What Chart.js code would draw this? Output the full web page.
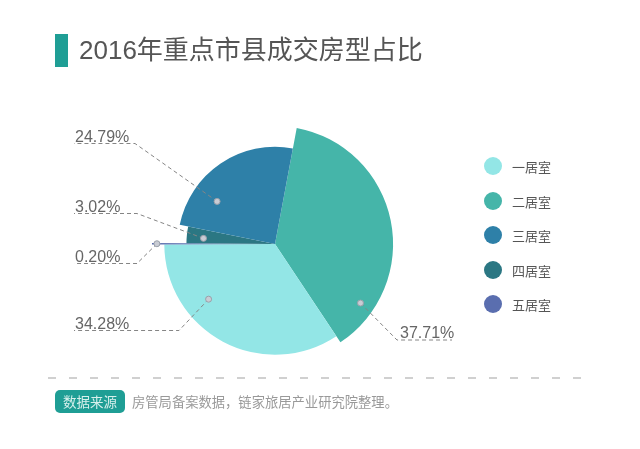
<!DOCTYPE html>
<html>
<head>
<meta charset="utf-8">
<script src="https://cdn.jsdelivr.net/npm/chart.js@4/dist/chart.umd.min.js"></script>
<style>
  body { margin: 0; background: #fff; font-family: "Liberation Sans", "Noto Sans CJK SC", sans-serif; }
  #wrap { position: relative; width: 640px; height: 449px; overflow: hidden; }
  #grafico { position: absolute; left: 0; top: 0; }
  .titulo { position: absolute; left: 55px; top: 34px; height: 33px; border-left: 13px solid #1f9e95; padding-left: 11px;
            font-size: 26px; line-height: 33px; color: #555; white-space: nowrap; }
  .legenda { position: absolute; left: 484px; top: 157px; }
  .legenda div { height: 34.5px; display: flex; align-items: flex-start; font-size: 13px; color: #555; }
  .legenda span.dot { width: 18px; height: 18px; border-radius: 50%; margin-right: 10px; }
  .legenda span.txt { line-height: 19px; font-family: "Noto Sans CJK SC", sans-serif; }
  .rodape-linha { position: absolute; left: 48px; top: 377px; width: 544px; height: 1.5px;
                  background: repeating-linear-gradient(to right, #d0d0d0 0 8px, transparent 8px 21px); }
  .fonte { position: absolute; left: 55px; top: 390px; width: 70px; height: 23px; border-radius: 5px; background: #1f9e95;
           color: #d8f0ec; font-size: 13.5px; line-height: 23px; text-align: center; font-family: "Noto Sans CJK SC", sans-serif; }
  .fonte-txt { position: absolute; left: 132px; top: 390px; line-height: 23px; font-size: 13.3px; color: #999; white-space: nowrap;
               font-family: "Noto Sans CJK SC", sans-serif; }
</style>
</head>
<body>
<div id="wrap">
  <canvas id="grafico" width="640" height="449"></canvas>
  <div class="titulo">2016年重点市县成交房型占比</div>
  <div class="legenda" id="legenda"></div>
  <div class="rodape-linha"></div>
  <div class="fonte">数据来源</div>
  <div class="fonte-txt">房管局备案数据，链家旅居产业研究院整理。</div>
</div>
<script>
// dados (ordem da legenda)
const categorias = ['一居室', '二居室', '三居室', '四居室', '五居室'];
const percentuais = [34.28, 37.71, 24.79, 3.02, 0.20];
const cores = ['#93e6e6', '#45b5a9', '#2e80a8', '#2b7783', '#5a6eaf'];

// ordem de desenho no sentido horario a partir do topo
const ordemDesenho = [1, 0, 4, 3, 2];

// raio relativo de cada fatia (estilo), na ordem da legenda
const escalaRaio = [0.90, 0.96, 0.79, 0.72, 1.0];

// marcador dentro da fatia: fracao do angulo, fracao do raio
const marcadores = [[0.68, 0.78], [0.84, 0.88], [0.28, 0.74], [0.37, 0.81], [0.5, 0.96]];

// rotulos: linha horizontal em y, dobra em x, lado
const rotulos = [
  { y: 330.5, dobra: 179, lado: 'esq' },
  { y: 340, dobra: 397, lado: 'dir' },
  { y: 143.5, dobra: 135, lado: 'esq' },
  { y: 213.5, dobra: 137, lado: 'esq' },
  { y: 263.5, dobra: 137, lado: 'esq' }
];

legenda.innerHTML = categorias.map((c, i) =>
  `<div><span class="dot" style="background:${cores[i]}"></span><span class="txt">${c}</span></div>`).join('');

const raioPorFatia = {
  id: 'raioPorFatia',
  beforeDatasetsDraw(chart) {
    const meta = chart.getDatasetMeta(0);
    const base = meta.controller.outerRadius;
    meta.data.forEach((el, k) => {
      el.outerRadius = base * escalaRaio[ordemDesenho[k]];
    });
  }
};

const linhasRotulo = {
  id: 'linhasRotulo',
  afterDatasetsDraw(chart) {
    const ctx = chart.ctx;
    const meta = chart.getDatasetMeta(0);
    ctx.save();
    meta.data.forEach((el, k) => {
      const i = ordemDesenho[k];
      const [fa, fr] = marcadores[i];
      const ang = el.startAngle + (el.endAngle - el.startAngle) * fa;
      const r = el.outerRadius * fr;
      const mx = el.x + Math.cos(ang) * r;
      const my = el.y + Math.sin(ang) * r;
      const rt = rotulos[i];
      const fim = rt.lado === 'esq' ? 74 : 452;

      ctx.setLineDash([4, 3]);
      ctx.strokeStyle = '#858585';
      ctx.lineWidth = 1;
      ctx.beginPath();
      ctx.moveTo(mx, my);
      ctx.lineTo(rt.dobra, rt.y);
      ctx.lineTo(fim, rt.y);
      ctx.stroke();
      ctx.setLineDash([]);

      ctx.beginPath();
      ctx.arc(mx, my, 3, 0, Math.PI * 2);
      ctx.fillStyle = '#c9ccd4';
      ctx.fill();
      ctx.strokeStyle = '#9aa0aa';
      ctx.lineWidth = 1;
      ctx.stroke();

      ctx.fillStyle = '#666';
      ctx.font = '16px "Liberation Sans", sans-serif';
      ctx.textBaseline = 'alphabetic';
      ctx.textAlign = 'left';
      const tx = rt.lado === 'esq' ? 75 : 400;
      ctx.fillText(percentuais[i].toFixed(2) + '%', tx, rt.y - 2);
    });
    ctx.restore();
  }
};

let chart = new Chart(grafico, {
  type: 'pie',
  data: {
    labels: ordemDesenho.map(i => categorias[i]),
    datasets: [{
      data: ordemDesenho.map(i => percentuais[i]),
      backgroundColor: ordemDesenho.map(i => cores[i]),
      borderWidth: 0
    }]
  },
  options: {
    responsive: false,
    animation: false,
    rotation: 10.6,
    radius: 123,
    layout: { padding: { left: 0, right: 90, top: 39, bottom: 0 } },
    plugins: {
      legend: { display: false },
      tooltip: { enabled: false }
    }
  },
  plugins: [raioPorFatia, linhasRotulo]
});
</script>
</body>
</html>
